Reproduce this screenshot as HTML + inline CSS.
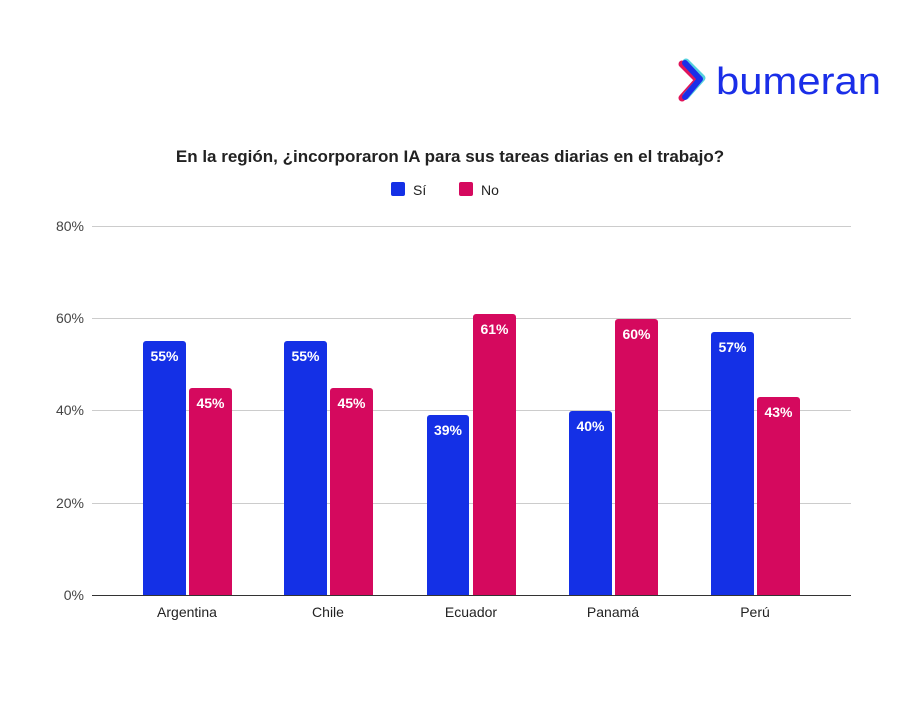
<!DOCTYPE html><html><head><style>body{margin:0;background:#fff}</style></head><body>
<svg width="900" height="700" xmlns="http://www.w3.org/2000/svg" font-family="Liberation Sans, Arial, sans-serif">
<rect width="900" height="700" fill="#fff"/>
<g transform="translate(680,58)">
<path d="M2 6 L18 22 L2 40" stroke="#e0145a" stroke-width="7" fill="none" stroke-linejoin="round" stroke-linecap="round"/>
<path d="M6 4 L22 20 L6 38" stroke="#2bc4d6" stroke-width="7" fill="none" stroke-linejoin="round" stroke-linecap="round" opacity="0.8"/>
<path d="M5 5 L20 21 L5 39" stroke="#1a2ee8" stroke-width="6" fill="none" stroke-linejoin="round" stroke-linecap="round"/>
</g>
<text x="716" y="94" font-size="38" fill="#1a2ee8" textLength="165" lengthAdjust="spacingAndGlyphs">bumeran</text>
<text x="450" y="162" text-anchor="middle" font-size="17" font-weight="bold" fill="#222">En la región, ¿incorporaron IA para sus tareas diarias en el trabajo?</text>
<rect x="391" y="182" width="14" height="14" rx="2" fill="#1430e6"/>
<text x="413" y="195" font-size="14" fill="#222">Sí</text>
<rect x="459" y="182" width="14" height="14" rx="2" fill="#d5095e"/>
<text x="481" y="195" font-size="14" fill="#222">No</text>
<g stroke="#ccc" stroke-width="1">
<line x1="92" x2="851" y1="226.5" y2="226.5"/><line x1="92" x2="851" y1="318.5" y2="318.5"/><line x1="92" x2="851" y1="410.5" y2="410.5"/><line x1="92" x2="851" y1="503.5" y2="503.5"/>
</g>
<g font-size="14" fill="#444" text-anchor="end">
<text x="84" y="231">80%</text><text x="84" y="323">60%</text><text x="84" y="415">40%</text><text x="84" y="508">20%</text><text x="84" y="600">0%</text>
</g>
<g fill="#1430e6">
<path d="M143 595V344a3 3 0 0 1 3-3h37a3 3 0 0 1 3 3V595z"/>
<path d="M284 595V344a3 3 0 0 1 3-3h37a3 3 0 0 1 3 3V595z"/>
<path d="M427 595V418a3 3 0 0 1 3-3h36a3 3 0 0 1 3 3V595z"/>
<path d="M569 595V414a3 3 0 0 1 3-3h37a3 3 0 0 1 3 3V595z"/>
<path d="M711 595V335a3 3 0 0 1 3-3h37a3 3 0 0 1 3 3V595z"/>
</g>
<g fill="#d5095e">
<path d="M189 595V391a3 3 0 0 1 3-3h37a3 3 0 0 1 3 3V595z"/>
<path d="M330 595V391a3 3 0 0 1 3-3h37a3 3 0 0 1 3 3V595z"/>
<path d="M473 595V317a3 3 0 0 1 3-3h37a3 3 0 0 1 3 3V595z"/>
<path d="M615 595V322a3 3 0 0 1 3-3h37a3 3 0 0 1 3 3V595z"/>
<path d="M757 595V400a3 3 0 0 1 3-3h37a3 3 0 0 1 3 3V595z"/>
</g>
<g font-size="14" font-weight="bold" fill="#fff" text-anchor="middle">
<text x="164.5" y="361">55%</text><text x="210.5" y="408">45%</text>
<text x="305.5" y="361">55%</text><text x="351.5" y="408">45%</text>
<text x="448" y="435">39%</text><text x="494.5" y="334">61%</text>
<text x="590.5" y="431">40%</text><text x="636.5" y="339">60%</text>
<text x="732.5" y="352">57%</text><text x="778.5" y="417">43%</text>
</g>
<line x1="92" x2="851" y1="595.5" y2="595.5" stroke="#333" stroke-width="1"/>
<g font-size="14" fill="#222" text-anchor="middle">
<text x="187" y="617">Argentina</text><text x="328" y="617">Chile</text><text x="471" y="617">Ecuador</text><text x="613" y="617">Panamá</text><text x="755" y="617">Perú</text>
</g>
</svg>
</body></html>
